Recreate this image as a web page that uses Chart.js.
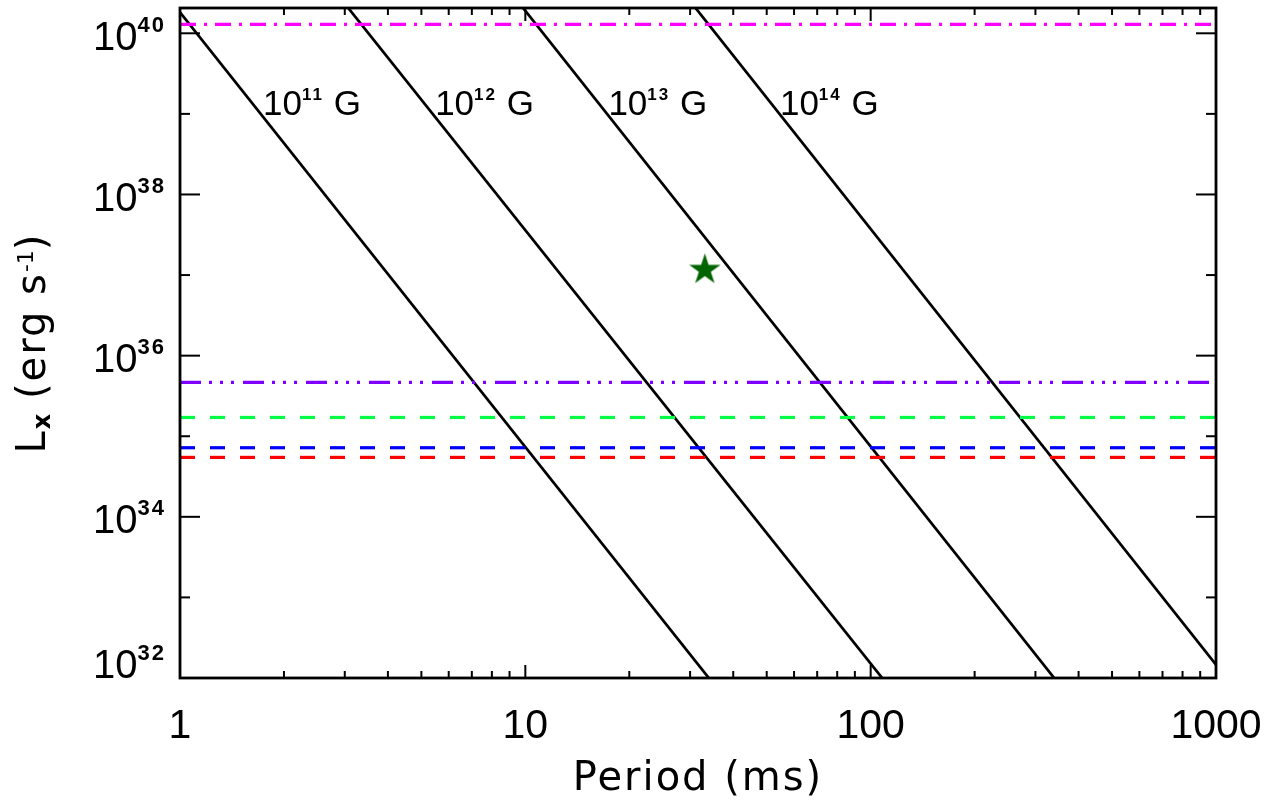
<!DOCTYPE html>
<html>
<head>
<meta charset="utf-8">
<script src="https://cdn.jsdelivr.net/npm/chart.js@4.4.0/dist/chart.umd.min.js"></script>
<style>
  body { margin: 0; background: #fff; }
  canvas { display: block; }
</style>
</head>
<body>
<canvas id="plot" width="1288" height="801"></canvas>
<script>
// spin-down lines, one entry per field strength (10^exp G)
const fieldExps   = [11, 12, 13, 14];
const fieldStartP = [1, 3.07, 9.85, 31.1];
const fieldStartL = [1.82e40, 2.06e40, 2.06e40, 2.06e40];
const fieldEndP   = [34, 108, 340, 1000];
const fieldEndL   = [1e32, 1e32, 1e32, 1.46e32];

// horizontal luminosity levels
const levelL = [1.29e40, 4.67e35, 1.71e35, 7.2e34, 5.46e34];

// the source (star)
const sourceP = [33.1];
const sourceL = [1.16e37];

// axes
const periodTicks = [1, 10, 100, 1000];
const lumExps = [32, 33, 34, 35, 36, 37, 38, 39, 40];
const lumLabelExps = [32, 34, 36, 38, 40];

// styling
const levelColors = ['#ff00ff', '#7f00ff', '#00ff44', '#0000ff', '#ff0000'];
const levelDashes = [[16, 8, 3, 8], [21, 8, 3, 8, 3, 8, 3, 9], [15, 15], [15, 15], [15, 15]];
const labelP = [1.74, 5.48, 17.4, 54.6];
const labelL = 9.7e38;

const NUM = '"Liberation Sans", Arial, sans-serif';
const TXT = '"DejaVu Sans", sans-serif';

function starImage(r, color) {
  const c = document.createElement('canvas');
  const s = Math.ceil(r * 2 + 2);
  c.width = s; c.height = s;
  const g = c.getContext('2d');
  g.fillStyle = color;
  g.beginPath();
  for (let i = 0; i < 10; i++) {
    const rad = i % 2 ? r * 0.382 : r;
    const a = -Math.PI / 2 + i * Math.PI / 5;
    g.lineTo(s / 2 + rad * Math.cos(a), s / 2 + rad * Math.sin(a));
  }
  g.closePath();
  g.fill();
  return c;
}

// runs are [text, font, dy, letterSpacing]
function runWidth(ctx, runs) {
  let w = 0;
  for (const r of runs) {
    ctx.font = r[1];
    ctx.letterSpacing = (r[3] || 0) + 'px';
    w += ctx.measureText(r[0]).width;
  }
  return w;
}
function drawRuns(ctx, runs, x, y) {
  ctx.textAlign = 'left';
  ctx.textBaseline = 'alphabetic';
  for (const r of runs) {
    ctx.font = r[1];
    ctx.letterSpacing = (r[3] || 0) + 'px';
    ctx.fillText(r[0], x, y + r[2]);
    x += ctx.measureText(r[0]).width;
  }
  ctx.letterSpacing = '0px';
}
function power(exp, size, supSize, rise) {
  return [['10', size + 'px ' + NUM, 0, 0], [String(exp), 'bold ' + supSize + 'px ' + NUM, -rise, 2]];
}

const decor = {
  id: 'decor',
  beforeDraw(chart) {
    const ctx = chart.ctx;
    ctx.save();
    ctx.fillStyle = '#fff';
    ctx.fillRect(0, 0, chart.width, chart.height);
    ctx.restore();
  },
  afterDraw(chart) {
    const { ctx, chartArea: a, scales: { x, y } } = chart;
    ctx.save();
    ctx.strokeStyle = '#000';
    ctx.fillStyle = '#000';

    // ticks, pointing inwards on all four sides
    ctx.lineWidth = 2;
    const seg = (x1, y1, x2, y2) => { ctx.beginPath(); ctx.moveTo(x1, y1); ctx.lineTo(x2, y2); ctx.stroke(); };
    periodTicks.forEach((p, i) => {
      const px = x.getPixelForValue(p);
      seg(px, a.bottom, px, a.bottom - 13);
      seg(px, a.top, px, a.top + 13);
      if (i < periodTicks.length - 1) {
        for (let m = 2; m <= 9; m++) {
          const mx = x.getPixelForValue(p * m);
          seg(mx, a.bottom, mx, a.bottom - 7);
          seg(mx, a.top, mx, a.top + 7);
        }
      }
    });
    lumExps.forEach(e => {
      const py = y.getPixelForValue(Math.pow(10, e));
      const len = lumLabelExps.includes(e) ? 20 : 10;
      seg(a.left, py, a.left + len, py);
      seg(a.right, py, a.right - len, py);
    });

    // frame
    ctx.lineWidth = 2.8;
    ctx.strokeRect(a.left, a.top, a.right - a.left, a.bottom - a.top);

    // x tick labels
    ctx.font = '41px ' + NUM;
    ctx.textAlign = 'center';
    ctx.textBaseline = 'alphabetic';
    periodTicks.forEach(p => ctx.fillText(String(p), x.getPixelForValue(p), 738));

    // y tick labels
    lumLabelExps.forEach(e => {
      const py = y.getPixelForValue(Math.pow(10, e));
      const runs = power(e, 40, 22, 18);
      const w = runWidth(ctx, runs);
      drawRuns(ctx, runs, 166 - w, Math.min(py + 16.5, a.bottom));
    });

    // field labels
    fieldExps.forEach((e, i) => {
      const runs = power(e, 35, 17, 15);
      runs.push([' G', '35px ' + NUM, 0, 0]);
      drawRuns(ctx, runs, x.getPixelForValue(labelP[i]), y.getPixelForValue(labelL));
    });

    // x title
    const xt = [['Period (ms)', '40px ' + TXT, 0, 2]];
    const xw = runWidth(ctx, xt);
    drawRuns(ctx, xt, (a.left + a.right) / 2 - xw / 2, 790);

    // y title, rotated
    const yt = [
      ['L', '40px ' + TXT, 0, 2],
      ['x', 'bold 24px ' + TXT, 5, 0],
      [' (erg s', '40px ' + TXT, 0, 2],
      ['-1', '22px ' + TXT, -12, 0],
      [')', '40px ' + TXT, 0, 2]
    ];
    const yw = runWidth(ctx, yt);
    ctx.translate(45, (a.top + a.bottom) / 2);
    ctx.rotate(-Math.PI / 2);
    drawRuns(ctx, yt, -yw / 2, 0);
    ctx.restore();
  }
};

const datasets = [];
datasets.push({
  data: sourceP.map((p, i) => ({ x: p, y: sourceL[i] })),
  pointStyle: starImage(16.5, '#006400'),
  pointRadius: 17,
  showLine: false
});
levelL.forEach((l, i) => {
  datasets.push({
    data: [{ x: 1, y: l }, { x: 1000, y: l }],
    borderColor: levelColors[i],
    borderDash: levelDashes[i],
    borderWidth: 3.2,
    pointRadius: 0,
    showLine: true
  });
});
fieldExps.forEach((e, i) => {
  datasets.push({
    data: [{ x: fieldStartP[i], y: fieldStartL[i] }, { x: fieldEndP[i], y: fieldEndL[i] }],
    borderColor: '#000',
    borderWidth: 2.8,
    pointRadius: 0,
    showLine: true
  });
});

new Chart(document.getElementById('plot'), {
  type: 'scatter',
  data: { datasets: datasets },
  options: {
    responsive: false,
    animation: false,
    layout: { autoPadding: false, padding: { left: 180, right: 72, top: 8, bottom: 123 } },
    plugins: { legend: { display: false }, tooltip: { enabled: false } },
    scales: {
      x: { type: 'logarithmic', min: 1, max: 1000, display: false },
      y: { type: 'logarithmic', min: 1e32, max: 2.06e40, display: false }
    }
  },
  plugins: [decor]
});
</script>
</body>
</html>
